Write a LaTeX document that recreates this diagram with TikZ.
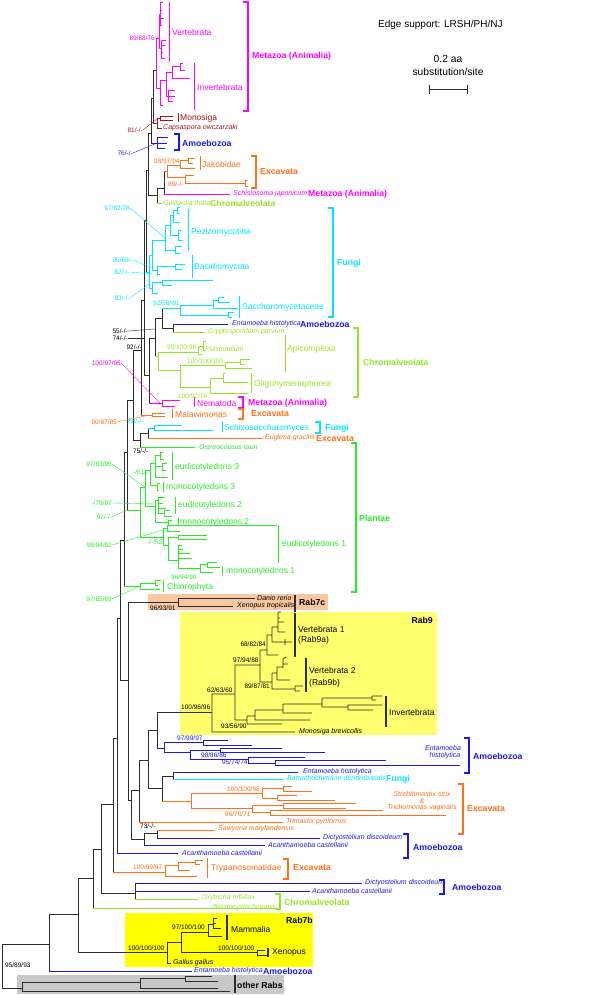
\documentclass[tikz,border=0pt]{standalone}
\usepackage{fontspec}
\setmainfont{Liberation Sans}
\definecolor{cMeta}{RGB}{255,0,255}
\definecolor{cAmo}{RGB}{25,25,235}
\definecolor{cFun}{RGB}{0,228,255}
\definecolor{cExc}{RGB}{255,110,25}
\definecolor{cChr}{RGB}{150,228,40}
\definecolor{cPla}{RGB}{40,235,40}
\definecolor{cMon}{RGB}{165,20,30}
\definecolor{cBack}{RGB}{45,45,45}
\definecolor{boxSevenC}{RGB}{250,200,160}
\definecolor{boxNine}{RGB}{255,255,110}
\definecolor{boxSevenB}{RGB}{255,255,0}
\definecolor{boxOther}{RGB}{200,200,200}
\tikzset{
  bk/.style={draw=cBack,line width=.8pt},
  mz/.style={draw=cMeta,line width=.8pt},
  am/.style={draw=cAmo,line width=.8pt},
  fu/.style={draw=cFun,line width=.8pt},
  ex/.style={draw=cExc,line width=.8pt},
  cr/.style={draw=cChr,line width=.8pt},
  pl/.style={draw=cPla,line width=.8pt},
  mo/.style={draw=cMon,line width=.8pt},
  supval/.style={inner sep=0pt,font=\fontsize{6.5}{7}\selectfont},
  leafname/.style={inner sep=0pt,font=\fontsize{7}{8}\selectfont\itshape},
  grpname/.style={inner sep=0pt,font=\fontsize{8.5}{10}\selectfont},
  cladename/.style={inner sep=0pt,font=\fontsize{8.7}{10}\selectfont\bfseries},
  grpbar/.style={line width=1pt},
  leader/.style={line width=.4pt}
}
% bracket of a major clade: colour, x, top, bottom
\newcommand{\cladebr}[4]{\draw[draw=#1,line width=1.2pt] (#2-5,#3) -- (#2,#3) -- (#2,#4) -- (#2-5,#4);}
\begin{document}
\begin{tikzpicture}[x=1pt,y=-1pt]
\useasboundingbox (0,0) rectangle (600,995);

%boxes
\fill[boxSevenC] (148,594) rectangle (328,610);
\fill[boxNine] (180,612) rectangle (437,735);
\fill[boxSevenB] (125,913) rectangle (313,967);
\fill[boxOther] (17,975) rectangle (284,994);

%legend and scale
\node[anchor=west,inner sep=0pt,font=\fontsize{10}{12}\selectfont] (legend) at (378,25) {Edge support: LRSH/PH/NJ};
\node[inner sep=0pt,font=\fontsize{10.3}{12}\selectfont] (scaleA) at (448,59) {0.2 aa};
\node[inner sep=0pt,font=\fontsize{10.3}{12}\selectfont] (scaleB) at (448,72) {substitution/site};
\draw[bk] (429,89) -- (467,89) (429,85) -- (429,94) (467,85) -- (467,94);

%backbone, lower ladder
\draw[bk] (2,944) -- (2,988) (2,944) -- (49,944) (2,988) -- (22,988);
\draw[bk] (49,914) -- (49,971) (49,914) -- (78,914);
\draw[am] (49,971) -- (192,971);
\draw[bk] (78,878) -- (78,952) (78,878) -- (93,878) (78,952) -- (167,952);
\draw[bk] (93,849) -- (93,908) (93,849) -- (101,849);
\draw[cr] (93,908) -- (275,908);
\draw[bk] (101,804) -- (101,893) (101,804) -- (113,804) (101,893) -- (135,893);
\draw[bk] (113,738) -- (113,872) (113,738) -- (117,738);
\draw[ex] (113,872) -- (165,872);
\draw[bk] (117,618) -- (117,853) (117,618) -- (120,618);
\draw[am] (117,853) -- (178,853);
\draw[bk] (120,540) -- (120,680) (120,540) -- (124,540) (120,680) -- (128,680);
\draw[bk] (128,602) -- (128,800) (128,602) -- (178,602) (128,800) -- (131,800);
\draw[bk] (131,790) -- (131,839) (131,790) -- (139,790) (131,839) -- (144,839);
\draw[bk] (139,760) -- (139,822) (139,760) -- (148,760);
\draw[ex] (139,822) -- (283,822);
\draw[bk] (148,730) -- (148,788) (148,730) -- (157,730) (148,788) -- (162,788);
\draw[bk] (157,712) -- (157,748) (157,712) -- (212,712);
\draw[am] (157,748) -- (164,748);

%Sawyeria, Dictyostelium, Acanthamoeba
\draw[bk] (144,833) -- (144,845) (144,833) -- (157,833) (157,830) -- (157,838);
\draw[am] (144,845) -- (265,845) (157,838) -- (320,838);
\draw[ex] (157,830) -- (215,830);
\draw[bk] (135,883) -- (135,899);
\draw[am] (135,883) -- (362,883) (135,891) -- (310,891);
\draw[cr] (135,899) -- (198,899);

%Trypanosomatidae
\draw[ex] (165,865) -- (165,876) (165,865) -- (178,865) (165,876) -- (197,876)
  (178,862) -- (178,870) (178,862) -- (195,862) (178,870) -- (190,870)
  (195,860) -- (195,864) (195,860) -- (203,860) (195,864) -- (200,864);

%other Rabs
\draw[bk] (22,982) -- (22,991) (22,982) -- (140,982) (22,991) -- (230,991)
  (140,978) -- (140,988) (140,978) -- (185,978) (140,988) -- (218,988)
  (185,976) -- (185,981) (185,976) -- (212,976) (185,981) -- (218,981);

%Rab7b
\draw[bk] (167,942) -- (167,963) (167,942) -- (181,942) (167,963) -- (171,963)
  (181,932) -- (181,952) (181,932) -- (208,932) (181,952) -- (257,952)
  (208,924) -- (208,936) (208,924) -- (213,924) (208,936) -- (222,936)
  (213,918) -- (213,928) (213,918) -- (217,918) (213,923) -- (216,923) (213,928) -- (221,928)
  (257,950) -- (257,955) (257,950) -- (265,950) (257,955) -- (267,955);

%Rab7c
\draw[bk] (178,598) -- (178,606) (178,598) -- (255,598) (178,606) -- (233,606);

%Rab9
\draw[bk] (212,694) -- (212,732) (212,694) -- (235,694) (212,732) -- (295,732)
  (235,665) -- (235,720) (235,665) -- (260,665) (235,720) -- (247,720)
  (260,650) -- (260,682) (260,650) -- (267,650) (260,682) -- (272,682)
  (267,635) -- (267,655) (267,635) -- (272,635) (267,655) -- (278,655)
  (272,627) -- (272,642) (272,627) -- (278,627) (272,642) -- (292,642)
  (278,612) -- (278,632) (278,612) -- (281,612) (278,618) -- (280,618) (278,622) -- (284,622) (278,632) -- (285,632)
  (285,639) -- (285,645)
  (272,673) -- (272,689) (272,673) -- (277,673) (272,689) -- (295,689)
  (277,667) -- (277,680) (277,667) -- (283,667) (277,680) -- (290,680)
  (283,659) -- (283,668) (283,659) -- (286,657) (283,664) -- (288,664)
  (295,686) -- (295,691) (295,686) -- (303,686) (295,691) -- (300,691)
  (247,716) -- (247,724) (247,716) -- (255,716) (247,724) -- (282,724)
  (255,710) -- (255,720) (255,710) -- (283,710) (255,720) -- (310,720)
  (283,704) -- (283,713) (283,704) -- (322,704) (283,713) -- (312,713)
  (322,698) -- (322,707) (322,698) -- (372,698) (322,707) -- (348,707)
  (372,696) -- (372,700) (372,696) -- (382,696) (372,700) -- (376,700)
  (348,705) -- (348,710) (348,705) -- (382,705) (348,710) -- (373,710);

%Amoebozoa (lower)
\draw[am] (164,742) -- (164,752) (164,742) -- (203,742) (164,752) -- (190,752)
  (203,740) -- (203,745) (203,740) -- (228,740) (203,745) -- (252,745)
  (190,750) -- (190,759) (190,750) -- (220,750) (190,759) -- (248,759)
  (220,748) -- (220,752) (220,748) -- (282,748) (220,752) -- (325,752)
  (248,757) -- (248,763) (248,757) -- (305,757) (248,763) -- (275,763)
  (275,760) -- (275,765) (275,760) -- (386,760) (275,765) -- (460,765);

%Entamoeba, Batrachochytrium, Excavata
\draw[bk] (162,776) -- (162,801) (162,776) -- (173,776) (173,772) -- (173,779);
\draw[am] (173,772) -- (298,772);
\draw[fu] (173,779) -- (283,779);
\draw[ex] (162,801) -- (191,801)
  (191,793) -- (191,808) (191,793) -- (262,793) (191,808) -- (252,808)
  (262,788) -- (262,798) (262,788) -- (283,788) (262,798) -- (277,798)
  (283,786) -- (283,791) (283,786) -- (292,786) (283,791) -- (312,791)
  (277,795) -- (277,800) (277,795) -- (297,795) (277,800) -- (335,800)
  (252,805) -- (252,812) (252,805) -- (283,805) (252,812) -- (270,812)
  (283,803) -- (283,808) (283,803) -- (356,803) (283,808) -- (346,808)
  (270,810) -- (270,815) (270,810) -- (383,810) (270,815) -- (446,815);

%backbone, upper ladder
\draw[bk] (124,452) -- (124,586) (124,452) -- (127,452);
\draw[pl] (124,586) -- (140,586);
\draw[bk] (127,400) -- (127,510) (127,400) -- (133,400);
\draw[pl] (127,510) -- (140,510);
\draw[bk] (133,350) -- (133,440) (133,350) -- (141,350) (133,440) -- (140,440);
\draw[bk] (141,300) -- (141,415) (141,300) -- (144,300);
\draw[ex] (141,415) -- (152,415);
\draw[bk] (144,220) -- (144,375) (144,220) -- (146,220) (144,375) -- (149,375);
\draw[bk] (146,170) -- (146,272) (146,170) -- (148,170);
\draw[fu] (146,272) -- (149,272);
\draw[bk] (148,133) -- (148,195) (148,133) -- (151,133) (148,195) -- (157,195);
\draw[bk] (151,98) -- (151,143) (151,98) -- (153,98);
\draw[am] (151,143) -- (157,143);
\draw[bk] (153,70) -- (153,123) (153,70) -- (156,70);
\draw[mo] (153,123) -- (157,123);

%Metazoa
\draw[mz] (156,38) -- (156,88) (156,38) -- (159,38) (156,88) -- (160,88)
  (159,14) -- (159,48) (159,14) -- (160,14) (159,48) -- (161,48)
  (160,2) -- (160,25) (161,40) -- (161,58)
  (160,80) -- (160,105) (160,80) -- (166,80) (160,105) -- (163,105)
  (166,72) -- (166,96) (166,72) -- (172,72) (166,96) -- (168,96)
  (172,66) -- (172,78) (172,66) -- (180,66) (172,78) -- (190,78)
  (180,63) -- (180,70) (180,63) -- (183,63) (180,70) -- (185,70)
  (168,90) -- (168,101);
\foreach \y/\e in {2/163,10/162,18/164,25/162}
  \draw[mz] (160,\y) -- (\e,\y);
\foreach \y/\e in {40/166,45/165,52/163,58/165}
  \draw[mz] (161,\y) -- (\e,\y);
\foreach \y/\e in {90/175,96/175,101/173}
  \draw[mz] (168,\y) -- (\e,\y);

%Monosiga, Capsaspora
\draw[mo] (157,118) -- (157,128) (157,118) -- (160,118) (157,128) -- (162,128)
  (160,116) -- (160,120) (160,116) -- (173,116) (160,120) -- (173,120);

%Amoebozoa (upper)
\draw[am] (157,137) -- (157,148) (157,137) -- (168,137) (157,143) -- (167,143) (157,148) -- (165,148);

%Excavata, Schistosoma, Guillardia
\draw[bk] (157,188) -- (157,203) (157,188) -- (164,188) (164,171) -- (164,194);
\draw[cr] (157,203) -- (162,203);
\draw[mz] (164,194) -- (230,194);
\draw[ex] (164,171) -- (167,171)
  (167,165) -- (167,177) (167,165) -- (180,165) (167,177) -- (185,177)
  (180,160) -- (180,168) (180,160) -- (188,160) (180,168) -- (195,168)
  (188,158) -- (188,163) (188,158) -- (195,158) (188,163) -- (193,163)
  (185,175) -- (185,183) (185,175) -- (194,175) (185,183) -- (245,183)
  (245,180) -- (245,186) (245,180) -- (248,180) (245,186) -- (248,186);

%Fungi
\draw[fu] (149,255) -- (149,288) (149,255) -- (152,255) (149,288) -- (152,288)
  (152,240) -- (152,270) (152,240) -- (165,240) (152,270) -- (157,270)
  (165,225) -- (165,250) (165,225) -- (170,225) (165,250) -- (175,250)
  (170,215) -- (170,235) (170,215) -- (173,215) (170,235) -- (178,235)
  (173,210) -- (173,222) (173,210) -- (177,210) (173,222) -- (180,222)
  (177,207) -- (177,213) (177,207) -- (180,207) (177,213) -- (180,213)
  (178,230) -- (178,240) (178,230) -- (181,230) (178,240) -- (183,240)
  (175,246) -- (175,253) (175,246) -- (182,246) (175,253) -- (180,253)
  (157,266) -- (157,274) (157,266) -- (175,266) (157,274) -- (160,274)
  (175,264) -- (175,269) (175,264) -- (185,264) (175,269) -- (182,269)
  (152,282) -- (152,293) (152,282) -- (162,282) (152,293) -- (158,293)
  (162,280) -- (162,285) (162,280) -- (213,280) (162,285) -- (172,285);

%Saccharomycetaceae, Entamoeba, Chromalveolata
\draw[bk] (149,338) -- (149,403) (149,338) -- (155,338)
  (155,318) -- (155,356) (155,318) -- (162,318)
  (162,308) -- (162,328) (162,328) -- (173,328) (173,324) -- (173,332);
\draw[mz] (149,403) -- (162,403) (162,400) -- (162,406) (162,400) -- (180,400) (162,406) -- (175,406);
\draw[fu] (162,308) -- (180,308)
  (180,305) -- (180,315) (180,305) -- (213,305) (180,315) -- (228,315)
  (213,300) -- (213,308) (213,300) -- (218,300) (213,308) -- (238,308)
  (218,297) -- (218,302) (218,297) -- (224,297) (218,302) -- (230,302)
  (228,312) -- (228,317) (228,312) -- (234,312) (228,317) -- (232,317);
\draw[am] (173,324) -- (228,324);
\draw[cr] (173,332) -- (205,332)
  (155,356) -- (158,356)
  (158,352) -- (158,370) (158,352) -- (198,352) (158,370) -- (180,370)
  (198,346) -- (198,354) (198,346) -- (203,346) (198,354) -- (202,354)
  (203,341) -- (203,350) (203,341) -- (206,341) (203,350) -- (205,350)
  (180,365) -- (180,387) (180,365) -- (225,365) (180,387) -- (210,387)
  (225,362) -- (225,368) (225,362) -- (240,362) (225,368) -- (252,368)
  (240,359) -- (240,364) (240,359) -- (250,359) (240,364) -- (245,364)
  (210,378) -- (210,393) (210,378) -- (223,378) (210,393) -- (248,393)
  (223,373) -- (223,382) (223,373) -- (226,373) (223,382) -- (248,382);

%Malawimonas, Schizosaccharomyces, Euglena, Ostreococcus
\draw[ex] (152,413) -- (152,416) (152,413) -- (165,413) (152,416) -- (165,416);
\draw[bk] (140,433) -- (140,447) (140,433) -- (148,433) (148,428) -- (148,438);
\draw[fu] (148,428) -- (154,428) (154,425) -- (154,430) (154,425) -- (182,425) (154,430) -- (213,430);
\draw[ex] (148,438) -- (263,438);
\draw[pl] (140,447) -- (195,447);

%Plantae
\draw[pl] (140,487) -- (140,537) (140,487) -- (145,487) (140,537) -- (163,537)
  (145,470) -- (145,506) (145,470) -- (150,470) (145,506) -- (155,506)
  (150,463) -- (150,485) (150,463) -- (155,463) (150,485) -- (157,485)
  (155,455) -- (155,477) (155,455) -- (160,455) (155,466) -- (162,466) (155,477) -- (168,477)
  (160,452) -- (160,459) (160,452) -- (163,452) (160,459) -- (164,459)
  (162,463) -- (162,470) (162,463) -- (167,463) (162,470) -- (166,470)
  (157,483) -- (157,490) (157,483) -- (160,483) (157,490) -- (159,490)
  (155,500) -- (155,522) (155,500) -- (158,500) (155,522) -- (168,522)
  (158,497) -- (158,513) (158,497) -- (165,497) (158,503) -- (163,503) (158,508) -- (166,508) (158,513) -- (164,513)
  (164,510) -- (164,516) (164,510) -- (170,510) (164,516) -- (172,516)
  (168,520) -- (168,525) (168,520) -- (172,520) (168,525) -- (171,525)
  (163,528) -- (163,545) (163,528) -- (167,528) (163,545) -- (168,545)
  (167,525) -- (167,531) (167,525) -- (277,525) (167,531) -- (180,531)
  (168,537) -- (168,560) (168,537) -- (178,537) (168,560) -- (178,560)
  (178,535) -- (178,539) (178,535) -- (207,535) (178,539) -- (207,539)
  (178,545) -- (178,568) (178,568) -- (200,568)
  (200,564) -- (200,572) (200,564) -- (207,564) (200,572) -- (213,572)
  (207,562) -- (207,567) (207,562) -- (217,562) (207,567) -- (220,567)
  (140,583) -- (140,589) (140,583) -- (155,583) (140,589) -- (160,589)
  (155,580) -- (155,585) (155,580) -- (161,580) (155,585) -- (158,585);
\foreach \y/\e in {545/182,549/183,553/190,558/192}
  \draw[pl] (178,\y) -- (\e,\y);

%group bars
\draw[mz,grpbar] (169,2) -- (169,62) (194,63) -- (194,110) (194,397) -- (194,407);
\draw[mo,grpbar] (178,113) -- (178,122);
\draw[ex,grpbar] (200,156) -- (200,170) (172,409) -- (172,418) (207,858) -- (207,878);
\draw[fu,grpbar] (188,209) -- (188,251) (192,255) -- (192,278) (239,296) -- (239,318) (222,422) -- (222,432);
\draw[cr,grpbar] (285,335) -- (285,372) (251,373) -- (251,393);
\draw[pl,grpbar] (172,452) -- (172,480) (163,482) -- (163,492) (175,497) -- (175,514)
  (178,518) -- (178,526) (278,525) -- (278,563) (222,567) -- (222,575) (163,580) -- (163,592);
\draw[bk,line width=1.2pt] (295,595) -- (295,612) (295,613) -- (295,657) (306,658) -- (306,692)
  (386,696) -- (386,727) (227,915) -- (227,940) (268,948) -- (268,957) (235,975) -- (235,993);

%clade brackets
\cladebr{cMeta}{248}{2}{111}
\cladebr{cAmo}{179}{134}{150}
\cladebr{cExc}{256}{156}{188}
\cladebr{cFun}{333}{208}{317}
\cladebr{cChr}{358}{328}{397}
\cladebr{cMeta}{243}{397}{408}
\cladebr{cExc}{243}{409}{419}
\cladebr{cFun}{320}{422}{433}
\cladebr{cPla}{356}{443}{592}
\cladebr{cAmo}{469}{738}{773}
\cladebr{cExc}{463}{784}{834}
\cladebr{cAmo}{408}{834}{858}
\cladebr{cExc}{288}{859}{879}
\cladebr{cAmo}{444}{880}{894}
\cladebr{cChr}{280}{894}{909}

%labels, upper part
\node[supval,text=cMeta,anchor=east] (sVert) at (155,38) {89/68/76};
\node[grpname,text=cMeta,anchor=west] (tVert) at (172,32) {Vertebrata};
\node[grpname,text=cMeta,anchor=west] (tInv) at (197,87) {Invertebrata};
\node[cladename,text=cMeta,anchor=west] (tMetaA) at (252,56) {Metazoa (Animalia)};
\node[grpname,text=cMon,anchor=west] (tMono) at (180,118) {Monosiga};
\node[leafname,text=cMon,anchor=west] (tCaps) at (163,128) {Capsaspora owczarzaki};
\node[supval,text=cMon,anchor=east] (sMono) at (143,130) {81/-/-};
\node[cladename,text=cAmo,anchor=west] (tAmoA) at (182,143) {Amoebozoa};
\node[supval,text=cAmo,anchor=east] (sAmoA) at (133,153) {76/-/-};
\node[supval,text=cExc,anchor=west] (sJak) at (154,161) {98/97/94};
\node[grpname,text=cExc,anchor=west] (tJak) at (202,164) {Jakobidae};
\node[cladename,text=cExc,anchor=west] (tExcA) at (260,172) {Excavata};
\node[supval,text=cExc,anchor=west] (sExcA) at (168,184) {89/-/-};
\node[leafname,text=cMeta,anchor=west] (tSchi) at (233,194) {Schistosoma japonicum};
\node[cladename,text=cMeta,anchor=west] (tMetaB) at (308,194) {Metazoa (Animalia)};
\node[leafname,text=cChr,anchor=west] (tGuil) at (163,203) {Guillardia theta};
\node[cladename,text=cChr,anchor=west] (tChrA) at (210,203) {Chromalveolata};
\node[supval,text=cFun,anchor=east] (sPez) at (130,208) {97/82/78};
\node[grpname,text=cFun,anchor=west] (tPez) at (191,232) {Pezizomycotina};
\node[cladename,text=cFun,anchor=west] (tFunA) at (337,263) {Fungi};
\node[supval,text=cFun,anchor=east] (sFunA) at (133,260) {95/69/-};
\node[supval,text=cFun,anchor=east] (sFunB) at (130,272) {82/-/-};
\node[grpname,text=cFun,anchor=west] (tBas) at (194,267) {Basidiomycota};
\node[supval,text=cFun,anchor=east] (sFunC) at (130,298) {83/-/-};
\node[supval,text=cFun,anchor=west] (sSac) at (153,303) {92/58/60};
\node[grpname,text=cFun,anchor=west] (tSac) at (242,307) {Saccharomycetaceae};
\node[leafname,text=cAmo,anchor=west] (tEntA) at (232,324) {Entamoeba histolytica};
\node[cladename,text=cAmo,anchor=west] (tAmoB) at (300,324) {Amoebozoa};
\node[leafname,text=cChr,anchor=west] (tCryp) at (208,332) {Cryptosporidium parvum};
\node[supval,anchor=east] (sBackA) at (128,331) {55/-/-};
\node[supval,anchor=east] (sBackB) at (128,338) {74/-/-};
\node[supval,anchor=east] (sBackC) at (142,347) {92/-/-};
\node[grpname,text=cChr,anchor=west] (tApi) at (287,349) {Apicomplexa};
\node[supval,text=cChr,anchor=west] (sPlas) at (167,347) {98/100/98};
\node[leafname,text=cChr,anchor=west] (tPlas) at (205,349) {Plasmodium};
\node[supval,text=cChr,anchor=west] (sCilA) at (187,361) {100/100/100};
\node[grpname,text=cChr,anchor=west] (tOli) at (254,384) {Oligohymenophorea};
\node[supval,text=cChr,anchor=west] (sCilB) at (178,396) {100/92/76};
\node[cladename,text=cChr,anchor=west] (tChrB) at (363,362) {Chromalveolata};
\node[supval,text=cMeta,anchor=east] (sNem) at (121,363) {100/97/95};
\node[grpname,text=cMeta,anchor=west] (tNem) at (197,403) {Nematoda};
\node[cladename,text=cMeta,anchor=west] (tMetaC) at (248,403) {Metazoa (Animalia)};
\node[grpname,text=cExc,anchor=west] (tMal) at (175,414) {Malawimonas};
\node[cladename,text=cExc,anchor=west] (tExcB) at (251,414) {Excavata};
\node[supval,text=cExc,anchor=east] (sMal) at (117,422) {90/87/85};
\node[supval,text=cFun,anchor=west] (sSchi) at (128,421) {88/-/-};
\node[grpname,text=cFun,anchor=west] (tSchiz) at (224,428) {Schizosaccharomyces};
\node[cladename,text=cFun,anchor=west] (tFunB) at (325,428) {Fungi};
\node[leafname,text=cExc,anchor=west] (tEug) at (265,438) {Euglena gracilis};
\node[cladename,text=cExc,anchor=west] (tExcC) at (316,439) {Excavata};
\node[leafname,text=cPla,anchor=west] (tOst) at (199,447) {Ostreococcus tauri};
\node[supval,anchor=west] (sOst) at (133,451) {75/-/-};

%labels, Plantae
\node[supval,text=cPla,anchor=east] (sPlaA) at (112,464) {97/83/95};
\node[supval,text=cPla,anchor=west] (sPlaB) at (133,472) {-/61/-};
\node[grpname,text=cPla,anchor=west] (tEudC) at (175,467) {eudicotyledons 3};
\node[grpname,text=cPla,anchor=west] (tMonC) at (166,487) {monocotyledons 3};
\node[supval,text=cPla,anchor=east] (sPlaC) at (112,503) {-/79/87};
\node[grpname,text=cPla,anchor=west] (tEudB) at (178,505) {eudicotyledons 2};
\node[supval,text=cPla,anchor=east] (sPlaD) at (112,517) {97/-/-};
\node[grpname,text=cPla,anchor=west] (tMonB) at (180,522) {monocotyledons 2};
\node[supval,text=cPla,anchor=east] (sPlaE) at (112,545) {98/94/92};
\node[supval,text=cPla,anchor=west] (sPlaF) at (147,542) {-/-/52};
\node[grpname,text=cPla,anchor=west] (tEudA) at (282,544) {eudicotyledons 1};
\node[grpname,text=cPla,anchor=west] (tMonA) at (226,571) {monocotyledons 1};
\node[supval,text=cPla,anchor=west] (sPlaG) at (171,577) {96/94/90};
\node[grpname,text=cPla,anchor=west] (tChl) at (167,587) {Chlorophyta};
\node[cladename,text=cPla,anchor=west] (tPla) at (359,518) {Plantae};
\node[supval,text=cPla,anchor=east] (sChl) at (112,599) {97/85/69};

%labels, Rab7c and Rab9
\node[leafname,anchor=west] (tDan) at (257,598) {Danio rerio};
\node[leafname,anchor=west] (tXenT) at (237,606) {Xenopus tropicalis};
\node[supval,anchor=west] (sSevC) at (150,608) {96/93/91};
\node[cladename,anchor=west] (tSevC) at (299,602) {Rab7c};
\node[cladename,anchor=east] (tNine) at (433,620) {Rab9};
\node[grpname,anchor=west] (tVertA) at (298,629) {Vertebrata 1};
\node[grpname,anchor=west] (tVertAb) at (298,640) {(Rab9a)};
\node[supval,anchor=east] (sVertA) at (266,644) {68/82/84};
\node[supval,anchor=west] (sVert) at (233,660) {97/94/88};
\node[grpname,anchor=west] (tVertB) at (309,670) {Vertebrata 2};
\node[grpname,anchor=west] (tVertBb) at (309,683) {(Rab9b)};
\node[supval,anchor=east] (sVertB) at (270,686) {89/87/81};
\node[supval,anchor=west] (sNineA) at (207,690) {62/63/60};
\node[supval,anchor=west] (sNine) at (181,707) {100/98/96};
\node[grpname,anchor=west] (tInvB) at (389,712) {Invertebrata};
\node[supval,anchor=west] (sInvB) at (221,726) {93/56/90};
\node[leafname,anchor=west] (tMbre) at (299,732) {Monosiga brevicollis};

%labels, lower part
\node[supval,text=cAmo,anchor=west] (sAmoC) at (177,738) {97/99/97};
\node[supval,text=cAmo,anchor=west] (sAmoD) at (201,755) {98/86/86};
\node[supval,text=cAmo,anchor=west] (sAmoE) at (222,762) {95/74/74};
\node[leafname,text=cAmo] (tEntB) at (443,748) {Entamoeba};
\node[leafname,text=cAmo] (tEntBb) at (445,756) {histolytica};
\node[cladename,text=cAmo,anchor=west] (tAmoC) at (473,756) {Amoebozoa};
\node[leafname,text=cAmo,anchor=west] (tEntC) at (303,772) {Entamoeba histolytica};
\node[leafname,text=cFun,anchor=west] (tBat) at (287,779) {Batrachochytrium dendrobatidis};
\node[cladename,text=cFun,anchor=west] (tFunC) at (386,779) {Fungi};
\node[supval,text=cExc,anchor=west] (sExcB) at (227,789) {100/100/98};
\node[leafname,text=cExc] (tStr) at (422,794) {Streblomastix strix};
\node[leafname,text=cExc] (tAmp) at (422,801) {\&};
\node[leafname,text=cExc] (tTri) at (422,808) {Trichomonas vaginalis};
\node[cladename,text=cExc,anchor=west] (tExcD) at (467,809) {Excavata};
\node[supval,text=cExc,anchor=west] (sExcC) at (225,814) {96/70/71};
\node[leafname,text=cExc,anchor=west] (tTrim) at (286,822) {Trimastix pyriformis};
\node[supval,anchor=west] (sSaw) at (140,826) {73/-/-};
\node[leafname,text=cExc,anchor=west] (tSaw) at (218,829) {Sawyeria marylandensis};
\node[leafname,text=cAmo,anchor=west] (tDicA) at (323,838) {Dictyostelium discoideum};
\node[leafname,text=cAmo,anchor=west] (tAcaA) at (268,845) {Acanthamoeba castellanii};
\node[cladename,text=cAmo,anchor=west] (tAmoD) at (413,847) {Amoebozoa};
\node[leafname,text=cAmo,anchor=west] (tAcaB) at (182,853) {Acanthamoeba castellanii};
\node[supval,text=cExc,anchor=west] (sTryp) at (133,867) {100/99/97};
\node[grpname,text=cExc,anchor=west] (tTryp) at (211,868) {Trypanosomatidae};
\node[cladename,text=cExc,anchor=west] (tExcE) at (293,868) {Excavata};
\node[leafname,text=cAmo,anchor=west] (tDicB) at (365,883) {Dictyostelium discoideum};
\node[leafname,text=cAmo,anchor=west] (tAcaC) at (312,891) {Acanthamoeba castellanii};
\node[cladename,text=cAmo,anchor=west] (tAmoE) at (452,887) {Amoebozoa};
\node[leafname,text=cChr,anchor=west] (tOxy) at (201,898) {Oxytricha trifallax};
\node[leafname,text=cChr,anchor=west] (tBla) at (213,908) {Blastocystis hominis};
\node[cladename,text=cChr,anchor=west] (tChrC) at (284,902) {Chromalveolata};
\node[cladename,anchor=west] (tSevB) at (286,920) {Rab7b};
\node[supval,anchor=west] (sMam) at (172,927) {97/100/100};
\node[grpname,anchor=west] (tMam) at (231,929) {Mammalia};
\node[supval,anchor=west] (sSevB) at (128,948) {100/100/100};
\node[supval,anchor=west] (sXen) at (218,948) {100/100/100};
\node[grpname,anchor=west] (tXen) at (272,952) {Xenopus};
\node[leafname,anchor=west] (tGal) at (173,963) {Gallus gallus};
\node[leafname,text=cAmo,anchor=west] (tEntD) at (194,971) {Entamoeba histolytica};
\node[cladename,text=cAmo,anchor=west] (tAmoF) at (263,971) {Amoebozoa};
\node[supval,anchor=west] (sRoot) at (5,965) {95/89/93};
\node[cladename,anchor=west] (tOther) at (237,985) {other Rabs};

%leader lines
\draw[mo,leader] (sMono.east) -- (157,119);
\draw[am,leader] (sAmoA.east) -- (157,143);
\draw[fu,leader] (sPez.east) -- (165,238);
\draw[fu,leader] (sFunA.east) -- (152,268);
\draw[fu,leader] (sFunB.east) -- (152,274);
\draw[fu,leader] (sFunC.east) -- (149,284);
\draw[bk,leader] (sBackA.east) -- (155,329);
\draw[bk,leader] (sBackB.east) -- (144,338);
\draw[mz,leader] (sNem.east) -- (160,403);
\draw[ex,leader] (sMal.east) -- (150,415);
\draw[pl,leader] (sPlaA.east) -- (145,487);
\draw[pl,leader] (sPlaC.east) -- (155,504);
\draw[pl,leader] (sPlaD.east) -- (127,510);
\draw[pl,leader] (sPlaE.east) -- (163,530);
\draw[pl,leader] (sChl.east) -- (140,586);
\end{tikzpicture}
\end{document}
